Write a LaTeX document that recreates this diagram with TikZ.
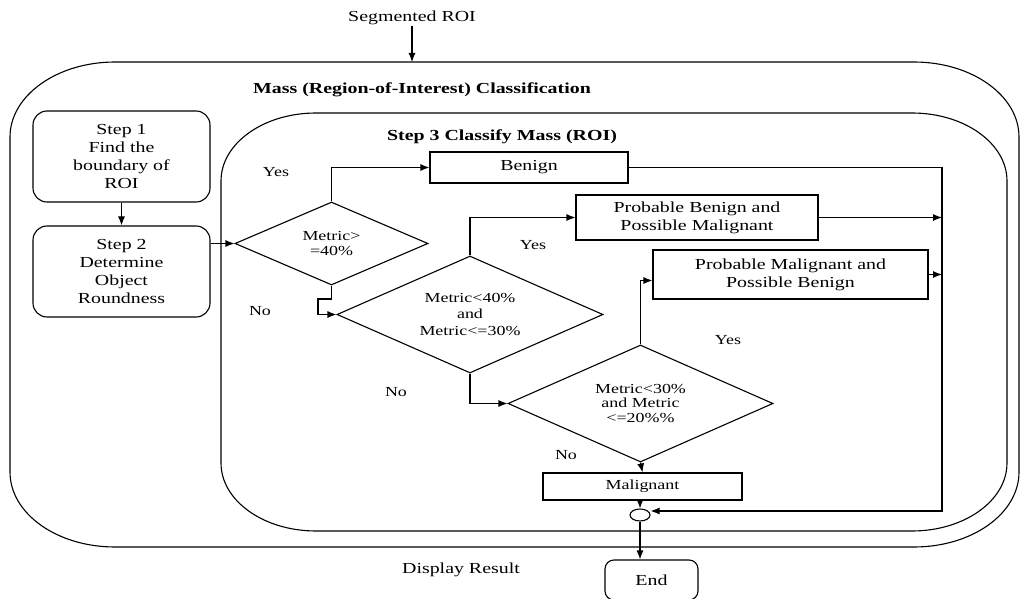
\documentclass[tikz,border=0pt]{standalone}
\usepackage{fontspec}
\setmainfont{Liberation Serif}[FakeStretch=1.3]
\usetikzlibrary{arrows.meta,shapes.geometric}
\begin{document}
\begin{tikzpicture}[x=1pt,y=-1pt,line width=1.1pt,
  base/.style={font=\fontsize{15.3}{17.7}\selectfont, align=center, inner sep=0pt},
  small/.style={font=\fontsize{13.8}{14.5}\selectfont, align=center, inner sep=0pt},
  stepbox/.style={draw, rounded corners=14pt, base, minimum width=177pt, minimum height=91pt},
  outbox/.style={draw, rectangle, base},
  dia/.style={draw, diamond, aspect=2, small},
  arr/.style={-{Latex[length=9pt,width=7pt]}},
  ttl/.style={base, font=\fontsize{15.3}{17.7}\selectfont\bfseries}
]
\useasboundingbox (0,0) rectangle (1021,599);

% containers
\draw (115,62) -- (914,62) .. controls (972,62) and (1019,95.6) .. (1019,137)
  -- (1019,472) .. controls (1019,513.6) and (972,547) .. (914,547)
  -- (115,547) .. controls (57,547) and (10,513.6) .. (10,472)
  -- (10,137) .. controls (10,95.6) and (57,62) .. (115,62) -- cycle;
\draw (316,113) -- (912,113) .. controls (964.5,113) and (1007,143.4) .. (1007,181)
  -- (1007,463) .. controls (1007,500.6) and (964.5,531) .. (912,531)
  -- (316,531) .. controls (263.5,531) and (221,500.6) .. (221,463)
  -- (221,181) .. controls (221,143.4) and (263.5,113) .. (316,113) -- cycle;

% texts
\node[base] (seg) at (412,18) {Segmented ROI};
\coordinate (outtop) at (412,62);
\node[ttl] (title) at (422,90) {Mass (Region-of-Interest) Classification};
\node[ttl] (title3) at (502,137) {Step 3 Classify Mass (ROI)};
\node[base] (disp) at (461,570) {Display Result};

% nodes
\node[stepbox] (s1) at (121.5,156.5) {Step 1\\Find the\\boundary of\\ROI};
\node[stepbox] (s2) at (121.5,271.5) {Step 2\\Determine\\Object\\Roundness};
\node[dia, minimum width=193pt, minimum height=83pt] (d1) at (331.5,243.5) {Metric>\\=40\%};
\node[dia, minimum width=266pt, minimum height=117pt, font=\fontsize{13.8}{16.5}\selectfont] (d2) at (470,314.5) {Metric<40\%\\and\\Metric<=30\%};
\node[dia, minimum width=265pt, minimum height=117pt] (d3) at (640.5,403.5) {Metric<30\%\\and Metric\\<=20\%\%};
\node[outbox, minimum width=198pt, minimum height=31pt] (benign) at (529,167.5) {Benign};
\node[outbox, minimum width=242pt, minimum height=45pt] (pbpm) at (697,217.5) {Probable Benign and\\Possible Malignant};
\node[outbox, minimum width=275pt, minimum height=49pt] (pmpb) at (790.5,274.5) {Probable Malignant and\\Possible Benign};
\node[outbox, small, minimum width=199pt, minimum height=27pt] (mal) at (642.5,486.5) {Malignant};
\node[draw, ellipse, minimum width=20pt, minimum height=12pt, inner sep=0pt] (circ) at (640,515) {};
\node[draw, rounded corners=9pt, base, minimum width=93pt, minimum height=40pt] (endn) at (651.5,580) {End};

% labels
\node[small] (y1) at (276,172) {Yes};
\node[small] (n1) at (260,311) {No};
\node[small] (y2) at (533,245) {Yes};
\node[small] (n2) at (396,392) {No};
\node[small] (y3) at (728,340) {Yes};
\node[small] (n3) at (566,455) {No};

% rail coordinates
\coordinate (rtop) at (942,167.5);
\coordinate (rbot) at (942,511);
\coordinate (j1) at (318,299);

% connectors
\draw[arr] (seg.south) -- (outtop);
\draw[arr] (s1.south) -- (s2.north);
\draw[arr] (s2.east |- d1.west) -- (d1.west);
\draw[arr] (d1.north) |- (benign.west);
\draw[arr] (d1.south) |- (j1) |- (d2.west);
\draw[arr] (d2.north) |- (pbpm.west);
\draw[arr] (d2.south) |- (d3.west);
\draw[arr] (d3.north) |- ([yshift=-6pt]pmpb.west);
\draw[arr] (d3.south) -- (mal.north);
\draw[arr] (mal.south -| circ.north) -- (circ.north);
\draw[arr] (benign.east) -- (rtop) -- (rbot) -- (circ.east |- rbot);
\draw[arr] (pbpm.east) -- (rtop |- pbpm.east);
\draw[arr] (pmpb.east) -- (rtop |- pmpb.east);
\draw[arr] (circ.south) -- (circ.south |- endn.north);
\end{tikzpicture}
\end{document}
